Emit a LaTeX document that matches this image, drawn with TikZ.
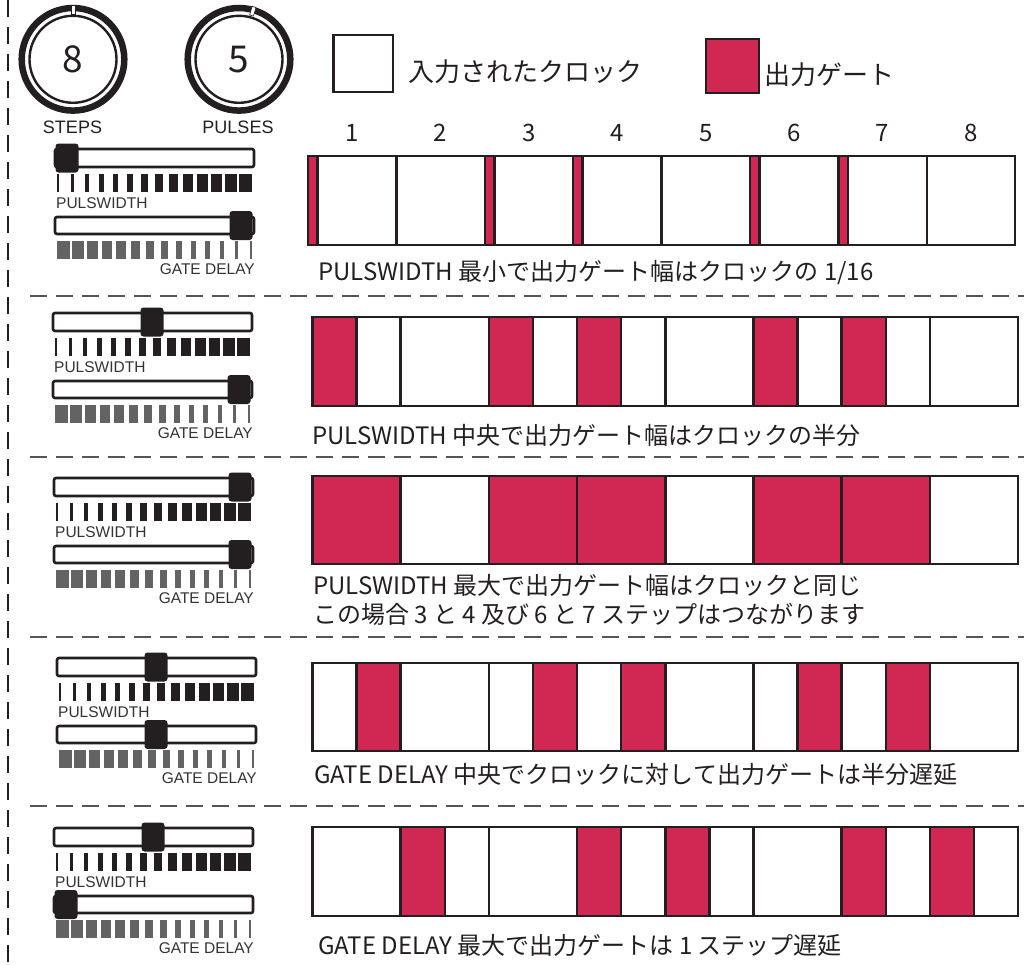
\documentclass[tikz,border=0pt]{standalone}
\usepackage{fontspec}
\usetikzlibrary{calc}
\newfontfamily\jp{Noto Sans CJK JP}
\newfontfamily\ar{Liberation Sans}
\definecolor{ink}{RGB}{35,31,32}
\definecolor{gate}{RGB}{208,40,82}
\definecolor{tickgray}{RGB}{99,99,99}
\definecolor{dashgray}{RGB}{85,85,85}
\definecolor{lblgray}{RGB}{51,51,51}
\tikzset{
  cellbox/.style={draw=ink, line width=2.5pt, fill=white},
  gatebox/.style={draw=ink, line width=2.5pt, fill=gate},
  track/.style={draw=ink, line width=2.6pt, fill=white, rounded corners=2pt},
  knobbox/.style={fill=ink, rounded corners=3pt},
  sepline/.style={draw=dashgray, line width=1.4pt, dash pattern=on 17pt off 9pt},
  sidel/.style={draw=ink, line width=1.4pt, dash pattern=on 17pt off 10pt},
  smalllbl/.style={inner sep=0pt, text=lblgray, font=\ar\fontsize{15.5}{18}\selectfont},
  knoblbl/.style={inner sep=0pt, text=ink, font=\ar\fontsize{18}{20}\selectfont},
  jplbl/.style={inner sep=0pt, anchor=west, text=ink, font=\jp\fontsize{24}{28}\selectfont},
  leglbl/.style={inner sep=0pt, anchor=west, text=ink, font=\jp\fontsize{26}{30}\selectfont},
  numlbl/.style={inner sep=0pt, text=ink, font=\jp\fontsize{24}{28}\selectfont},
  notch/.style={rectangle, fill=white, draw=ink, line width=0.6pt, minimum width=4pt, minimum height=9pt, inner sep=0pt},
}
\newcommand\myslider[5]{%
  \draw[track] (#2,#3) rectangle ++(199,18);
  \draw[track] (#2,#3+68) rectangle ++(199,17);
  \foreach \i in {0,...,13}{%
    \pgfmathsetmacro\tw{2+\i*0.85}%
    \fill[ink] (#2+2+\i*14,#3+25) rectangle ++(\tw,18);
    \fill[tickgray] (#2+197-\i*14,#3+92) rectangle ++(-\tw,18);
  }
  \fill[knobbox] (#2+0.5+#4*174,#3-5.5) rectangle ++(23,29);
  \fill[knobbox] (#2+0.5+#5*174,#3+62) rectangle ++(23,29);
  \node[smalllbl, anchor=west] (pw#1) at (#2+1,#3+54) {PULSWIDTH};
  \node[smalllbl, anchor=east] (gd#1) at (#2+200,#3+120) {GATE DELAY};
}
\newcommand\mycells[5]{%
  \foreach \c in {0,...,7}{%
    \draw[cellbox] (#2+\c*#3,#4) rectangle (#2+\c*#3+#3,#5);
  }
}
\begin{document}
\begin{tikzpicture}[x=1pt,y=-1pt]
\useasboundingbox (0,0) rectangle (1024,964);
\fill[white] (0,0) rectangle (1024,964);

% side and separator dashed lines
\draw[sidel] (8,0) -- (8,964);
\foreach \yy in {296,457,637,806}{
  \draw[sepline] (30,\yy) -- (1024,\yy);
}

% knobs
\coordinate (kst) at (73,59.3);
\coordinate (kpu) at (239,59.3);
\foreach \k in {kst,kpu}{
  \draw[ink, line width=6.5pt] (\k) circle (51.3);
  \draw[ink, line width=2.4pt] (\k) circle (43.5);
}
\node[notch] (nst) at ($(kst)+(-90:50)$) {};
\node[notch, rotate=-16] (npu) at ($(kpu)+(-74:50)$) {};
\node[inner sep=0pt, text=ink, font=\jp\fontsize{37}{40}\selectfont] (v8) at (kst) {8};
\node[inner sep=0pt, text=ink, font=\jp\fontsize{37}{40}\selectfont] (v5) at (kpu) {5};
\node[knoblbl] (steps) at (72.5,127) {STEPS};
\node[knoblbl] (pulses) at (238,127) {PULSES};

% legend
\draw[cellbox] (333.5,35) rectangle (393,92);
\node[leglbl] (lin) at (408,72) {入力されたクロック};
\draw[gatebox] (706,39) rectangle (759,93);
\node[leglbl] (lout) at (764,75) {出力ゲート};

% step numbers
\foreach \n in {1,...,8}{
  \node[numlbl] (num\n) at (308+\n*88.4-44.2,133) {\n};
}

% sliders
\myslider{a}{55}{149}{0}{1}
\myslider{b}{53}{313}{0.5}{1}
\myslider{c}{54}{478}{1}{1}
\myslider{d}{57}{658}{0.5}{0.5}
\myslider{e}{54}{828}{0.5}{0}

% row 1
\mycells{r1}{308}{88.4}{156}{245}
\foreach \c in {0,2,3,5,6}{\draw[gatebox] (308+\c*88.4,156) rectangle ++(9.5,89);}
\node[jplbl] (t1) at (318,273) {PULSWIDTH 最小で出力ゲート幅はクロックの 1/16};

% row 2
\mycells{r2}{312.5}{88.2}{317}{406}
\foreach \c in {0,2,3,5,6}{\draw[gatebox] (312.5+\c*88.2,317) rectangle ++(44.1,89);}
\node[jplbl] (t2) at (312,435) {PULSWIDTH 中央で出力ゲート幅はクロックの半分};

% row 3
\mycells{r3}{312.5}{88.2}{476}{564}
\foreach \c in {0,2,3,5,6}{\draw[gatebox] (312.5+\c*88.2,476) rectangle ++(88.2,88);}
\node[jplbl] (t3a) at (313,585) {PULSWIDTH 最大で出力ゲート幅はクロックと同じ};
\node[jplbl] (t3b) at (313,614) {この場合 3 と 4 及び 6 と 7 ステップはつながります};

% row 4
\mycells{r4}{312.5}{88.2}{663}{751}
\foreach \c in {0,2,3,5,6}{\draw[gatebox] (312.5+\c*88.2+44.1,663) rectangle ++(44.1,88);}
\node[jplbl] (t4) at (314,774) {GATE DELAY 中央でクロックに対して出力ゲートは半分遅延};

% row 5
\mycells{r5}{312.5}{88.2}{827}{916}
\foreach \c in {1,3,4,6,7}{\draw[gatebox] (312.5+\c*88.2,827) rectangle ++(44.1,89);}
\node[jplbl] (t5) at (318,945) {GATE DELAY 最大で出力ゲートは 1 ステップ遅延};
\end{tikzpicture}
\end{document}
